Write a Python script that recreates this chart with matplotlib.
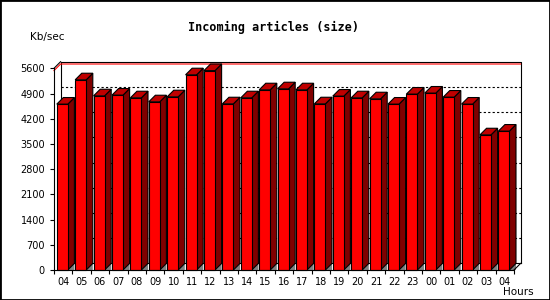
import numpy as np
import matplotlib
matplotlib.use('Agg')
import matplotlib.pyplot as plt
from matplotlib.patches import Rectangle, Polygon

# hourly incoming article volume (Kb/sec)
hours = ['04', '05', '06', '07', '08', '09', '10', '11', '12', '13', '14', '15', '16',
         '17', '18', '19', '20', '21', '22', '23', '00', '01', '02', '03', '04']
kbps = [4605, 5280, 4835, 4855, 4780, 4669, 4808, 5419, 5536, 4613, 4780, 5002, 5030,
        5002, 4613, 4827, 4780, 4752, 4605, 4883, 4911, 4799, 4605, 3752, 3855]
yticks = [0, 700, 1400, 2100, 2800, 3500, 4200, 4900, 5600]

n = len(kbps)
ymax = yticks[-1]
vmax = max(kbps)

fig = plt.figure(figsize=(5.5, 3), dpi=100)
fig.patch.set_facecolor('white')
ax = fig.add_axes([54/550, 30/300, 460/550, 201.7/300])
ax.set_xlim(0, n)
ax.set_ylim(0, ymax)
ax.set_facecolor('none')

# 3d depth, pixels -> data units
D = 6.6
dx = D / (ax.bbox.width / n)
dy = D / (ax.bbox.height / ymax)

lw = 0.8
# back plane: gridlines, frame, max line
for t in yticks[1:-1]:
    ax.plot([dx, n + dx], [t + dy, t + dy], color='black', lw=lw,
            dashes=(2, 2), clip_on=False, zorder=1)
ax.plot([dx, dx, n + dx, n + dx], [dy, ymax + dy, ymax + dy, dy], color='black',
        lw=lw, clip_on=False, zorder=1)
ax.plot([dx, n + dx], [dy, dy], color='black', lw=lw, clip_on=False, zorder=1)
ax.plot([0, dx], [ymax, ymax + dy], color='black', lw=lw, clip_on=False, zorder=1)
ax.plot([0, dx, n + dx], [vmax, vmax + dy, vmax + dy], color='red', lw=lw,
        clip_on=False, zorder=1.5)

# bars
bw = 0.6
for i, v in enumerate(kbps):
    x0 = i + 0.15
    x1 = x0 + bw
    ax.add_patch(Polygon([(x1, 0), (x1 + dx, dy), (x1 + dx, 0)], closed=True,
                         facecolor='#808080', edgecolor='none', clip_on=False, zorder=2))
    ax.add_patch(Polygon([(x1, 0), (x1, v), (x1 + dx, v + dy), (x1 + dx, dy)], closed=True,
                         facecolor='#800000', edgecolor='black', lw=lw, clip_on=False, zorder=2))
    ax.add_patch(Polygon([(x0, v), (x1, v), (x1 + dx, v + dy), (x0 + dx, v + dy)], closed=True,
                         facecolor='#c00000', edgecolor='black', lw=lw, clip_on=False, zorder=2))
    ax.add_patch(Rectangle((x0, 0), bw, v, facecolor='#ff0000', edgecolor='black',
                           lw=lw, clip_on=False, zorder=2.2))

# front floor edge to back corner
ax.plot([n, n + dx], [0, dy], color='black', lw=lw, clip_on=False, zorder=3)

for s in ['top', 'right']:
    ax.spines[s].set_visible(False)
for s in ['left', 'bottom']:
    ax.spines[s].set_linewidth(lw)
    ax.spines[s].set_zorder(3)

ax.set_yticks(yticks)
ax.set_yticklabels([str(t) for t in yticks])
ax.set_xticks(np.arange(n + 1))
ax.set_xticklabels([])
ax.set_xticks(np.arange(n) + 0.5, minor=True)
ax.set_xticklabels(hours, minor=True)
ax.tick_params(axis='both', which='major', direction='out', length=3, width=lw,
               labelsize=7, pad=3.5)
ax.tick_params(axis='x', which='minor', length=0, labelsize=7, pad=5)

fig.text(274/550, 1 - 27/300, 'Incoming articles (size)', ha='center', va='center',
         family='DejaVu Sans Mono', weight='bold', fontsize=8.5)
fig.text(30/550, 1 - 37/300, 'Kb/sec', ha='left', va='center', fontsize=7.5)
fig.text(534/550, 1 - 292/300, 'Hours', ha='right', va='center', fontsize=7.5)

fig.patches.append(Rectangle((0, 0), 1, 1, transform=fig.transFigure, fill=False,
                             edgecolor='black', lw=2, figure=fig))

fig.savefig('out.png', dpi=100)
